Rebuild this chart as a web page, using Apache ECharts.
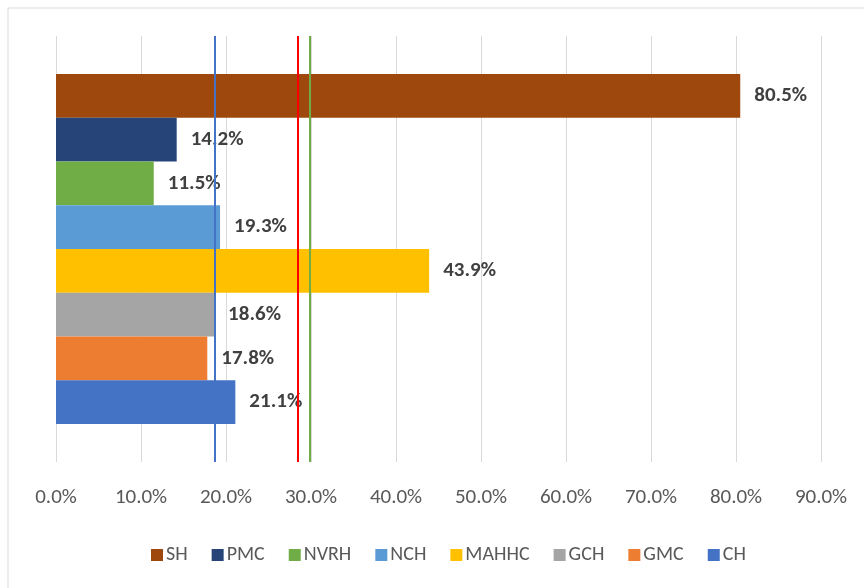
<!DOCTYPE html>
<html>
<head>
<meta charset="UTF-8">
<script src="https://cdn.jsdelivr.net/npm/echarts@6/dist/echarts.min.js"></script>
<style>
  html, body { margin: 0; padding: 0; background: #fff; }
  #main { width: 864px; height: 588px; }
</style>
</head>
<body>
<div id="main"></div>
<script>
// hospitals, top to bottom as drawn
var names = ['SH', 'PMC', 'NVRH', 'NCH', 'MAHHC', 'GCH', 'GMC', 'CH'];
var values = [80.5, 14.2, 11.5, 19.3, 43.9, 18.6, 17.8, 21.1];
var colors = ['#9E480E', '#264478', '#70AD47', '#5B9BD5', '#FFC000', '#A5A5A5', '#ED7D31', '#4472C4'];
// reference lines (value, colour)
var refValues = [18.7, 28.4, 29.9];
var refColors = ['#4472C4', '#FF0000', '#70AD47'];
var xTicks = { min: 0, max: 90, step: 10 };

var font = 'Calibri, Carlito, "Liberation Sans", sans-serif';
var chart = echarts.init(document.getElementById('main'));

var series = names.map(function (n, i) {
  var s = {
    name: n,
    type: 'bar',
    data: [values[i]],
    itemStyle: { color: colors[i] },
    barGap: '0%',
    barCategoryGap: '17.8%',
    label: {
      show: true,
      position: 'right',
      distance: 14,
      formatter: function (p) { return p.value.toFixed(1) + '%'; },
      color: '#404040',
      fontWeight: 'bold',
      fontSize: 21,
      fontFamily: font
    },
    animation: false
  };
  if (i === 0) {
    s.markLine = {
      silent: true,
      symbol: ['none', 'none'],
      label: { show: false },
      animation: false,
      data: refValues.map(function (v, k) {
        return { xAxis: v, lineStyle: { color: refColors[k], width: 2, type: 'solid' } };
      })
    };
  }
  return s;
});

chart.setOption({
  backgroundColor: '#fff',
  graphic: [{
    type: 'rect',
    shape: { x: 8, y: 8, width: 900, height: 600 },
    style: { fill: 'none', stroke: '#d9d9d9', lineWidth: 1 },
    silent: true
  }],
  grid: { left: 56, right: 43, top: 36, bottom: 126 },
  legend: {
    top: 540,
    left: 146,
    icon: 'rect',
    itemWidth: 12,
    itemHeight: 12,
    itemGap: 24,
    textStyle: { color: '#595959', fontSize: 20, fontFamily: font, padding: [0, 0, 0, -2] },
    data: names
  },
  xAxis: {
    type: 'value',
    min: xTicks.min,
    max: xTicks.max,
    interval: xTicks.step,
    axisLine: { show: false },
    axisTick: { show: false },
    splitLine: { lineStyle: { color: '#d9d9d9', width: 1 } },
    axisLabel: {
      margin: 25,
      color: '#595959',
      fontSize: 21,
      fontFamily: font,
      formatter: function (v) { return v.toFixed(1) + '%'; }
    }
  },
  yAxis: {
    type: 'category',
    data: [''],
    axisLine: { show: false },
    axisTick: { show: false },
    axisLabel: { show: false }
  },
  series: series
});
</script>
</body>
</html>
